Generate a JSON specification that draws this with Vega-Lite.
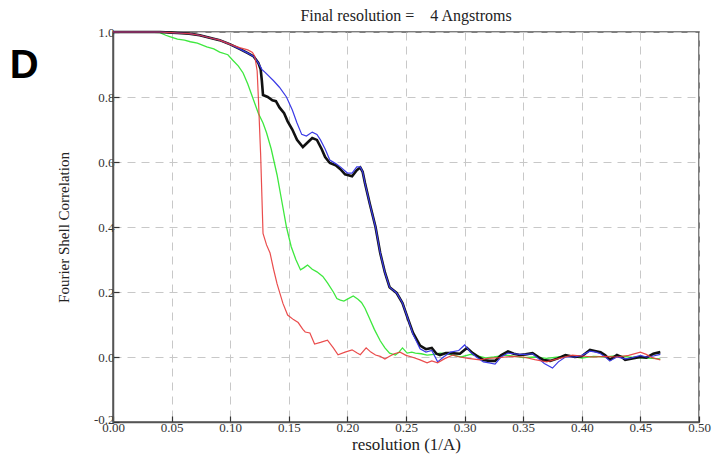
{
"$schema": "https://vega.github.io/schema/vega-lite/v6.json",
"autosize": "none",
"width": 586,
"height": 390,
"padding": {"left": 113, "top": 32, "right": 14, "bottom": 38},
"background": "white",
"title": {"text": "Final resolution =\u00a0\u00a0\u00a0\u00a04 Angstroms", "font": "Liberation Serif", "fontSize": 16, "fontWeight": "normal", "color": "#222", "anchor": "middle", "offset": 2},
"config": {
  "view": {"stroke": "#555", "strokeWidth": 1.5},
  "axis": {"domainColor": "#555", "domainWidth": 1.5, "tickColor": "#333", "tickSize": -6, "tickWidth": 1.2, "gridColor": "#c8c8c8", "gridDash": [8, 6], "gridWidth": 1, "labelFont": "Liberation Serif", "labelFontSize": 13, "labelColor": "#333", "titleFont": "Liberation Serif", "titleFontSize": 15, "titleFontWeight": "normal", "titleColor": "#222"}
},
"datasets": {
"fsc": [
{"s":"black","x":0,"y":1.0},{"s":"black","x":0.02,"y":1.0},{"s":"black","x":0.04,"y":1.0},{"s":"black","x":0.05,"y":0.998},{"s":"black","x":0.055,"y":0.997},{"s":"black","x":0.065,"y":0.995},{"s":"black","x":0.074,"y":0.99},{"s":"black","x":0.085,"y":0.98},{"s":"black","x":0.091,"y":0.975},{"s":"black","x":0.1,"y":0.962},{"s":"black","x":0.108,"y":0.948},{"s":"black","x":0.115,"y":0.935},{"s":"black","x":0.12,"y":0.925},{"s":"black","x":0.124,"y":0.905},{"s":"black","x":0.126,"y":0.885},{"s":"black","x":0.127,"y":0.85},{"s":"black","x":0.128,"y":0.806},{"s":"black","x":0.132,"y":0.8},{"s":"black","x":0.136,"y":0.79},{"s":"black","x":0.139,"y":0.787},{"s":"black","x":0.142,"y":0.768},{"s":"black","x":0.146,"y":0.75},{"s":"black","x":0.149,"y":0.725},{"s":"black","x":0.153,"y":0.7},{"s":"black","x":0.157,"y":0.668},{"s":"black","x":0.162,"y":0.646},{"s":"black","x":0.166,"y":0.66},{"s":"black","x":0.17,"y":0.674},{"s":"black","x":0.174,"y":0.668},{"s":"black","x":0.178,"y":0.64},{"s":"black","x":0.181,"y":0.615},{"s":"black","x":0.185,"y":0.597},{"s":"black","x":0.19,"y":0.59},{"s":"black","x":0.194,"y":0.578},{"s":"black","x":0.198,"y":0.562},{"s":"black","x":0.204,"y":0.556},{"s":"black","x":0.208,"y":0.575},{"s":"black","x":0.211,"y":0.583},{"s":"black","x":0.213,"y":0.57},{"s":"black","x":0.215,"y":0.535},{"s":"black","x":0.219,"y":0.473},{"s":"black","x":0.224,"y":0.4},{"s":"black","x":0.228,"y":0.32},{"s":"black","x":0.232,"y":0.26},{"s":"black","x":0.236,"y":0.215},{"s":"black","x":0.242,"y":0.197},{"s":"black","x":0.247,"y":0.166},{"s":"black","x":0.252,"y":0.114},{"s":"black","x":0.256,"y":0.074},{"s":"black","x":0.262,"y":0.035},{"s":"black","x":0.267,"y":0.024},{"s":"black","x":0.272,"y":0.028},{"s":"black","x":0.276,"y":0.01},{"s":"black","x":0.279,"y":0.006},{"s":"black","x":0.284,"y":0.012},{"s":"black","x":0.288,"y":0.012},{"s":"black","x":0.296,"y":0.01},{"s":"black","x":0.302,"y":0.028},{"s":"black","x":0.307,"y":0.012},{"s":"black","x":0.312,"y":0.0},{"s":"black","x":0.316,"y":-0.009},{"s":"black","x":0.321,"y":-0.012},{"s":"black","x":0.326,"y":-0.012},{"s":"black","x":0.331,"y":0.005},{"s":"black","x":0.337,"y":0.017},{"s":"black","x":0.342,"y":0.01},{"s":"black","x":0.347,"y":0.006},{"s":"black","x":0.352,"y":0.008},{"s":"black","x":0.358,"y":0.012},{"s":"black","x":0.363,"y":0.0},{"s":"black","x":0.367,"y":-0.009},{"s":"black","x":0.373,"y":-0.012},{"s":"black","x":0.379,"y":-0.005},{"s":"black","x":0.386,"y":0.006},{"s":"black","x":0.394,"y":0.0},{"s":"black","x":0.4,"y":0.002},{"s":"black","x":0.407,"y":0.022},{"s":"black","x":0.412,"y":0.018},{"s":"black","x":0.416,"y":0.015},{"s":"black","x":0.42,"y":0.005},{"s":"black","x":0.424,"y":-0.009},{"s":"black","x":0.43,"y":0.006},{"s":"black","x":0.434,"y":0.0},{"s":"black","x":0.437,"y":-0.009},{"s":"black","x":0.442,"y":-0.005},{"s":"black","x":0.45,"y":0.0},{"s":"black","x":0.455,"y":-0.002},{"s":"black","x":0.461,"y":0.01},{"s":"black","x":0.467,"y":0.015},

{"s":"blue","x":0,"y":1.0},{"s":"blue","x":0.02,"y":1.0},{"s":"blue","x":0.04,"y":1.0},{"s":"blue","x":0.05,"y":0.998},{"s":"blue","x":0.055,"y":0.997},{"s":"blue","x":0.065,"y":0.995},{"s":"blue","x":0.074,"y":0.99},{"s":"blue","x":0.085,"y":0.98},{"s":"blue","x":0.091,"y":0.975},{"s":"blue","x":0.1,"y":0.962},{"s":"blue","x":0.108,"y":0.948},{"s":"blue","x":0.115,"y":0.935},{"s":"blue","x":0.12,"y":0.925},{"s":"blue","x":0.124,"y":0.905},{"s":"blue","x":0.127,"y":0.885},{"s":"blue","x":0.13,"y":0.875},{"s":"blue","x":0.137,"y":0.85},{"s":"blue","x":0.142,"y":0.83},{"s":"blue","x":0.148,"y":0.8},{"s":"blue","x":0.153,"y":0.76},{"s":"blue","x":0.157,"y":0.72},{"s":"blue","x":0.161,"y":0.685},{"s":"blue","x":0.165,"y":0.68},{"s":"blue","x":0.17,"y":0.692},{"s":"blue","x":0.174,"y":0.685},{"s":"blue","x":0.177,"y":0.668},{"s":"blue","x":0.181,"y":0.64},{"s":"blue","x":0.185,"y":0.606},{"s":"blue","x":0.19,"y":0.595},{"s":"blue","x":0.194,"y":0.585},{"s":"blue","x":0.2,"y":0.566},{"s":"blue","x":0.204,"y":0.566},{"s":"blue","x":0.208,"y":0.585},{"s":"blue","x":0.211,"y":0.585},{"s":"blue","x":0.213,"y":0.57},{"s":"blue","x":0.215,"y":0.535},{"s":"blue","x":0.219,"y":0.473},{"s":"blue","x":0.224,"y":0.4},{"s":"blue","x":0.228,"y":0.32},{"s":"blue","x":0.232,"y":0.26},{"s":"blue","x":0.236,"y":0.215},{"s":"blue","x":0.242,"y":0.197},{"s":"blue","x":0.247,"y":0.166},{"s":"blue","x":0.252,"y":0.114},{"s":"blue","x":0.256,"y":0.07},{"s":"blue","x":0.262,"y":0.025},{"s":"blue","x":0.267,"y":0.015},{"s":"blue","x":0.272,"y":0.02},{"s":"blue","x":0.277,"y":-0.015},{"s":"blue","x":0.282,"y":0.0},{"s":"blue","x":0.288,"y":0.015},{"s":"blue","x":0.295,"y":0.02},{"s":"blue","x":0.3,"y":0.037},{"s":"blue","x":0.305,"y":0.015},{"s":"blue","x":0.31,"y":0.0},{"s":"blue","x":0.316,"y":-0.015},{"s":"blue","x":0.321,"y":-0.018},{"s":"blue","x":0.326,"y":-0.022},{"s":"blue","x":0.331,"y":0.0},{"s":"blue","x":0.337,"y":0.012},{"s":"blue","x":0.342,"y":0.01},{"s":"blue","x":0.347,"y":0.008},{"s":"blue","x":0.352,"y":0.008},{"s":"blue","x":0.358,"y":0.01},{"s":"blue","x":0.363,"y":-0.005},{"s":"blue","x":0.368,"y":-0.02},{"s":"blue","x":0.375,"y":-0.034},{"s":"blue","x":0.38,"y":-0.015},{"s":"blue","x":0.386,"y":0.0},{"s":"blue","x":0.394,"y":0.0},{"s":"blue","x":0.4,"y":0.005},{"s":"blue","x":0.407,"y":0.018},{"s":"blue","x":0.412,"y":0.015},{"s":"blue","x":0.416,"y":0.01},{"s":"blue","x":0.42,"y":0.0},{"s":"blue","x":0.424,"y":-0.012},{"s":"blue","x":0.43,"y":0.0},{"s":"blue","x":0.437,"y":-0.006},{"s":"blue","x":0.442,"y":-0.003},{"s":"blue","x":0.45,"y":0.005},{"s":"blue","x":0.455,"y":0.0},{"s":"blue","x":0.461,"y":0.003},{"s":"blue","x":0.467,"y":0.008},

{"s":"red","x":0,"y":1.0},{"s":"red","x":0.02,"y":1.0},{"s":"red","x":0.04,"y":1.0},{"s":"red","x":0.05,"y":0.998},{"s":"red","x":0.055,"y":0.997},{"s":"red","x":0.065,"y":0.995},{"s":"red","x":0.074,"y":0.99},{"s":"red","x":0.085,"y":0.98},{"s":"red","x":0.091,"y":0.975},{"s":"red","x":0.1,"y":0.962},{"s":"red","x":0.108,"y":0.952},{"s":"red","x":0.115,"y":0.945},{"s":"red","x":0.119,"y":0.937},{"s":"red","x":0.121,"y":0.925},{"s":"red","x":0.123,"y":0.88},{"s":"red","x":0.124,"y":0.8},{"s":"red","x":0.126,"y":0.62},{"s":"red","x":0.127,"y":0.5},{"s":"red","x":0.128,"y":0.38},{"s":"red","x":0.131,"y":0.345},{"s":"red","x":0.134,"y":0.32},{"s":"red","x":0.137,"y":0.27},{"s":"red","x":0.14,"y":0.225},{"s":"red","x":0.145,"y":0.165},{"s":"red","x":0.149,"y":0.129},{"s":"red","x":0.154,"y":0.115},{"s":"red","x":0.158,"y":0.106},{"s":"red","x":0.162,"y":0.085},{"s":"red","x":0.164,"y":0.077},{"s":"red","x":0.168,"y":0.074},{"s":"red","x":0.172,"y":0.04},{"s":"red","x":0.177,"y":0.045},{"s":"red","x":0.183,"y":0.052},{"s":"red","x":0.188,"y":0.028},{"s":"red","x":0.192,"y":0.007},{"s":"red","x":0.198,"y":0.015},{"s":"red","x":0.204,"y":0.022},{"s":"red","x":0.208,"y":0.013},{"s":"red","x":0.211,"y":0.007},{"s":"red","x":0.216,"y":0.028},{"s":"red","x":0.22,"y":0.015},{"s":"red","x":0.224,"y":0.006},{"s":"red","x":0.228,"y":0.002},{"s":"red","x":0.232,"y":-0.006},{"s":"red","x":0.236,"y":0.002},{"s":"red","x":0.24,"y":0.01},{"s":"red","x":0.245,"y":0.015},{"s":"red","x":0.25,"y":0.005},{"s":"red","x":0.255,"y":0.0},{"s":"red","x":0.262,"y":-0.009},{"s":"red","x":0.268,"y":-0.018},{"s":"red","x":0.272,"y":-0.012},{"s":"red","x":0.277,"y":-0.018},{"s":"red","x":0.283,"y":-0.005},{"s":"red","x":0.29,"y":0.006},{"s":"red","x":0.296,"y":0.0},{"s":"red","x":0.303,"y":-0.004},{"s":"red","x":0.313,"y":-0.009},{"s":"red","x":0.32,"y":-0.004},{"s":"red","x":0.33,"y":-0.002},{"s":"red","x":0.34,"y":0.002},{"s":"red","x":0.35,"y":0.0},{"s":"red","x":0.36,"y":-0.008},{"s":"red","x":0.37,"y":-0.015},{"s":"red","x":0.38,"y":-0.005},{"s":"red","x":0.392,"y":0.006},{"s":"red","x":0.4,"y":0.003},{"s":"red","x":0.41,"y":0.0},{"s":"red","x":0.42,"y":0.002},{"s":"red","x":0.43,"y":0.0},{"s":"red","x":0.44,"y":0.005},{"s":"red","x":0.45,"y":0.015},{"s":"red","x":0.455,"y":0.008},{"s":"red","x":0.46,"y":-0.002},{"s":"red","x":0.467,"y":-0.009},

{"s":"green","x":0,"y":1.0},{"s":"green","x":0.03,"y":1.0},{"s":"green","x":0.04,"y":0.998},{"s":"green","x":0.045,"y":0.99},{"s":"green","x":0.049,"y":0.985},{"s":"green","x":0.055,"y":0.978},{"s":"green","x":0.061,"y":0.975},{"s":"green","x":0.066,"y":0.97},{"s":"green","x":0.072,"y":0.966},{"s":"green","x":0.08,"y":0.954},{"s":"green","x":0.086,"y":0.948},{"s":"green","x":0.091,"y":0.938},{"s":"green","x":0.098,"y":0.93},{"s":"green","x":0.102,"y":0.914},{"s":"green","x":0.107,"y":0.895},{"s":"green","x":0.111,"y":0.874},{"s":"green","x":0.115,"y":0.84},{"s":"green","x":0.118,"y":0.81},{"s":"green","x":0.121,"y":0.78},{"s":"green","x":0.124,"y":0.75},{"s":"green","x":0.128,"y":0.72},{"s":"green","x":0.131,"y":0.69},{"s":"green","x":0.135,"y":0.64},{"s":"green","x":0.14,"y":0.56},{"s":"green","x":0.144,"y":0.48},{"s":"green","x":0.148,"y":0.4},{"s":"green","x":0.152,"y":0.34},{"s":"green","x":0.156,"y":0.3},{"s":"green","x":0.16,"y":0.268},{"s":"green","x":0.163,"y":0.275},{"s":"green","x":0.166,"y":0.283},{"s":"green","x":0.17,"y":0.27},{"s":"green","x":0.174,"y":0.262},{"s":"green","x":0.179,"y":0.248},{"s":"green","x":0.183,"y":0.228},{"s":"green","x":0.188,"y":0.2},{"s":"green","x":0.191,"y":0.18},{"s":"green","x":0.194,"y":0.175},{"s":"green","x":0.197,"y":0.172},{"s":"green","x":0.2,"y":0.178},{"s":"green","x":0.205,"y":0.188},{"s":"green","x":0.209,"y":0.178},{"s":"green","x":0.212,"y":0.168},{"s":"green","x":0.215,"y":0.15},{"s":"green","x":0.219,"y":0.118},{"s":"green","x":0.223,"y":0.085},{"s":"green","x":0.228,"y":0.05},{"s":"green","x":0.232,"y":0.028},{"s":"green","x":0.236,"y":0.012},{"s":"green","x":0.241,"y":0.006},{"s":"green","x":0.244,"y":0.015},{"s":"green","x":0.247,"y":0.028},{"s":"green","x":0.251,"y":0.012},{"s":"green","x":0.255,"y":0.015},{"s":"green","x":0.258,"y":0.012},{"s":"green","x":0.263,"y":0.01},{"s":"green","x":0.268,"y":0.006},{"s":"green","x":0.274,"y":0.008},{"s":"green","x":0.279,"y":0.012},{"s":"green","x":0.285,"y":0.01},{"s":"green","x":0.29,"y":0.006},{"s":"green","x":0.297,"y":0.0},{"s":"green","x":0.305,"y":0.008},{"s":"green","x":0.31,"y":0.004},{"s":"green","x":0.318,"y":-0.003},{"s":"green","x":0.325,"y":0.0},{"s":"green","x":0.335,"y":0.006},{"s":"green","x":0.343,"y":0.002},{"s":"green","x":0.35,"y":-0.002},{"s":"green","x":0.36,"y":0.0},{"s":"green","x":0.37,"y":-0.004},{"s":"green","x":0.38,"y":0.0},{"s":"green","x":0.39,"y":0.003},{"s":"green","x":0.4,"y":-0.003},{"s":"green","x":0.41,"y":0.002},{"s":"green","x":0.42,"y":0.0},{"s":"green","x":0.43,"y":0.004},{"s":"green","x":0.44,"y":0.0},{"s":"green","x":0.45,"y":-0.003},{"s":"green","x":0.46,"y":-0.004},{"s":"green","x":0.467,"y":-0.006}
]
},
"layer": [
  {
    "data": {"name": "fsc"},
    "encoding": {
      "x": {"field": "x", "type": "quantitative", "scale": {"domain": [0, 0.5], "nice": false, "zero": false}, "axis": {"title": "resolution (1/A)", "titleFontSize": 17, "values": [0, 0.05, 0.1, 0.15, 0.2, 0.25, 0.3, 0.35, 0.4, 0.45, 0.5], "format": ".2f", "labelPadding": 5, "titlePadding": 2, "labelFlush": false}},
      "y": {"field": "y", "type": "quantitative", "scale": {"domain": [-0.2, 1.0], "nice": false, "zero": false}, "axis": {"title": "Fourier Shell Correlation", "values": [-0.2, 0, 0.2, 0.4, 0.6, 0.8, 1.0], "labelExpr": "replace(format(datum.value, '.1f'), '\u2212', '-')", "labelOffset": {"condition": {"test": "datum.value < -0.1", "value": -3}, "value": 0}, "labelPadding": 5, "titlePadding": 22, "labelFlush": false}}
    },
    "layer": [
      {"transform": [{"filter": "datum.s == 'green'"}], "mark": {"type": "line", "color": "#3ee83e", "strokeWidth": 1.3}},
      {"transform": [{"filter": "datum.s == 'black'"}], "mark": {"type": "line", "color": "#111111", "strokeWidth": 2.6}},
      {"transform": [{"filter": "datum.s == 'blue'"}], "mark": {"type": "line", "color": "#3a3ae6", "strokeWidth": 1.2}},
      {"transform": [{"filter": "datum.s == 'red'"}], "mark": {"type": "line", "color": "#e83a3a", "strokeWidth": 1.2, "opacity": 0.9}}
    ]
  },
  {
    "data": {"values": [{"t": "D"}]},
    "mark": {"type": "text", "font": "Liberation Sans", "fontWeight": "bold", "fontSize": 40, "align": "left", "baseline": "alphabetic", "color": "#000"},
    "encoding": {"x": {"datum": -0.088, "type": "quantitative"}, "y": {"datum": 0.858, "type": "quantitative"}, "text": {"field": "t"}}
  }
]
}
